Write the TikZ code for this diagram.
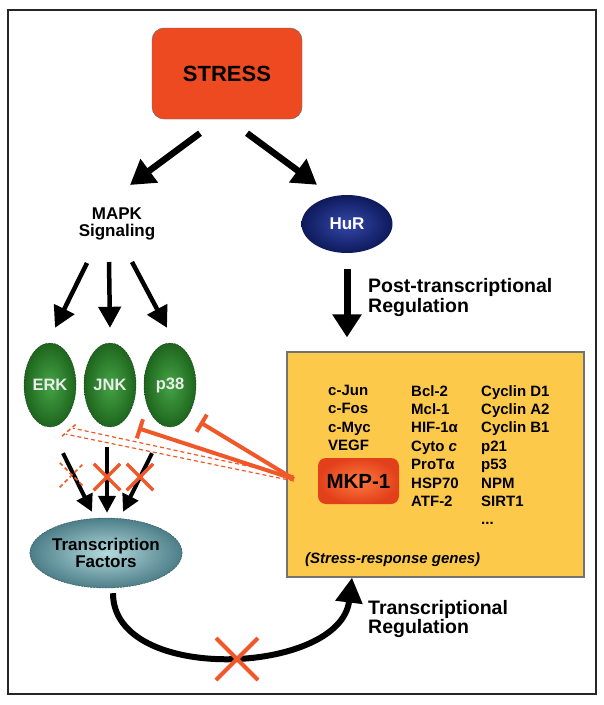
\documentclass[tikz,border=0pt]{standalone}
\usepackage{fontspec}
\setmainfont{Liberation Sans}
\usetikzlibrary{arrows.meta,shapes.geometric,shapes.misc}

\definecolor{stressred}{HTML}{EE4A22}
\definecolor{inhib}{HTML}{F0582A}
\definecolor{genebox}{HTML}{FDC94B}
\definecolor{hurdark}{HTML}{0E1A5C}
\definecolor{hurlight}{HTML}{3447A8}
\definecolor{kindark}{HTML}{1E651E}
\definecolor{kinlight}{HTML}{45A445}
\definecolor{tfdark}{HTML}{4D7E88}
\definecolor{tflight}{HTML}{B3DADE}
\definecolor{mkpdark}{HTML}{E2401A}
\definecolor{mkplight}{HTML}{FF7A40}

\tikzset{
  lbl/.style={font=\fontsize{17}{17}\selectfont\bfseries, align=center},
  sidetxt/.style={font=\fontsize{19.5}{19.5}\selectfont\bfseries, align=left, anchor=west, inner sep=0pt},
  genetxt/.style={font=\fontsize{15}{18.4}\selectfont\bfseries, align=left, anchor=north west, inner sep=0pt},
  kinase/.style={ellipse, minimum width=52pt, minimum height=84pt, inner sep=0pt,
    inner color=kinlight, outer color=kindark, draw=kindark!60!black, dash pattern=on 2pt off 1pt,
    text=white!92!black, font=\fontsize{16.5}{17}\selectfont\bfseries},
  bigarrow/.style={line width=6.5pt, -{Triangle[width=28pt,length=24pt]}},
  midarrow/.style={line width=4.5pt, -{Triangle[width=22pt,length=21pt]}},
  smallarrow/.style={line width=4pt, -{Triangle[width=17pt,length=17pt]}},
  block/.style={inhib, line width=4pt, -{Bar[width=20pt]}},
  ghost/.style={inhib, line width=1.2pt, dash pattern=on 4pt off 3pt},
  nox/.style={cross out, draw=inhib, line width=3.5pt, minimum size=23pt, inner sep=0pt}
}

\begin{document}
\begin{tikzpicture}[x=1pt,y=-1pt]
\useasboundingbox (0,0) rectangle (604,705);
\fill[white] (0,0) rectangle (604,705);
\draw[line width=2.5pt, black!85] (8,10) rectangle (596,694);

\node[rounded corners=12pt, fill=stressred, draw=black!60, minimum width=150pt, minimum height=91pt,
  font=\fontsize{22}{24}\selectfont\bfseries] (stress) at (227,73.5) {STRESS};
\node[lbl] (mapk) at (117,224) {MAPK\\Signaling};
\node[ellipse, minimum width=91pt, minimum height=58pt, inner color=hurlight, outer color=hurdark,
  text=white, font=\fontsize{17}{17}\selectfont\bfseries] (hur) at (347,224) {HuR};

\draw[bigarrow] ([xshift=-27pt,yshift=-14pt]stress.south) -- ([xshift=13pt,yshift=39pt]mapk.center);
\draw[bigarrow] ([xshift=20pt,yshift=-14pt]stress.south) -- ([xshift=-30pt,yshift=10pt]hur.north);

\node[kinase] (erk) at (50,385) {ERK};
\node[kinase] (jnk) at (110,385) {JNK};
\node[kinase] (p38) at (170,385) {p38};

\draw[midarrow] ([xshift=-30pt,yshift=-39pt]mapk.center) -- ([xshift=5pt,yshift=15pt]erk.north);
\draw[midarrow] ([xshift=-8pt,yshift=-38pt]mapk.center) -- ([yshift=15pt]jnk.north);
\draw[midarrow] ([xshift=15pt,yshift=-38pt]mapk.center) -- ([xshift=-3pt,yshift=15pt]p38.north);

\node[sidetxt] (post) at (368,297.5) {Post-transcriptional\\Regulation};
\node[draw=black!55, fill=genebox, line width=1.2pt, minimum width=297pt, minimum height=225pt,
  inner sep=0pt] (genes) at (435.5,464.5) {};
\draw[line width=7pt, -{Triangle[width=28pt,length=23pt]}, shorten <=16pt, shorten >=14pt]
  (hur.south) -- (hur.south |- genes.north);

\node[genetxt] (colA) at (328,385) {c-Jun\\c-Fos\\c-Myc\\VEGF};
\node[genetxt] (colB) at (411,385) {Bcl-2\\Mcl-1\\HIF-1α\\Cyto \textit{c}\\ProTα\\HSP70\\ATF-2};
\node[genetxt] (colC) at (481,385) {Cyclin D1\\Cyclin A2\\Cyclin B1\\p21\\p53\\NPM\\SIRT1\\...};
\node[font=\fontsize{15}{16}\selectfont\bfseries\itshape, anchor=west, inner sep=0pt] (note) at (305,560)
  {(Stress-response genes)};
\node[rounded corners=8pt, minimum width=81pt, minimum height=46pt, inner color=mkplight, outer color=mkpdark,
  font=\fontsize{20.5}{22}\selectfont\bfseries] (mkp) at (358.5,481) {MKP-1};

\node[ellipse, minimum width=151pt, minimum height=70pt, inner sep=0pt, inner color=tflight, outer color=tfdark,
  draw=tfdark!60!black, dash pattern=on 2pt off 1pt, lbl] (tf) at (106,553) {Transcription\\Factors};

\draw[smallarrow] ([xshift=13pt,yshift=-26pt]erk.south) -- ([xshift=-14pt,yshift=6pt]tf.north);
\draw[smallarrow] ([xshift=-3pt,yshift=-20pt]jnk.south) -- ([xshift=1pt,yshift=5pt]tf.north);
\draw[smallarrow] ([xshift=-18pt,yshift=-26pt]p38.south) -- ([xshift=17pt,yshift=6pt]tf.north);

\draw[block] ([xshift=-24pt,yshift=2pt]mkp.west) -- ([xshift=28pt,yshift=-1pt]jnk.south);
\draw[block] ([xshift=-24pt,yshift=2pt]mkp.west) -- ([xshift=30pt,yshift=5pt]p38.south);
\draw[ghost] ([xshift=-24pt,yshift=5pt]mkp.west) -- ([xshift=23pt,yshift=-1pt]erk.south);
\draw[ghost] ([xshift=-24pt]mkp.west) -- ([xshift=16pt,yshift=-7pt]erk.south);
\draw[ghost, line width=1.5pt] ([xshift=12pt,yshift=-9pt]erk.south) -- ([xshift=26pt,yshift=3pt]erk.south);

\node[nox, dash pattern=on 4pt off 3pt, line width=1.5pt] (x1) at (72,475) {};
\node[nox] (x2) at (107,477) {};
\node[nox] (x3) at (140,477) {};

\draw[line width=6pt, -{Triangle[width=26pt,length=25pt]}]
  ([xshift=7pt,yshift=-5pt]tf.south) .. controls (113,685) and (340,675) .. ([xshift=-83.5pt]genes.south);
\node[nox, line width=4pt, minimum size=38pt] (x4) at (237,659) {};
\node[sidetxt] (treg) at (368,619) {Transcriptional\\Regulation};
\end{tikzpicture}
\end{document}
